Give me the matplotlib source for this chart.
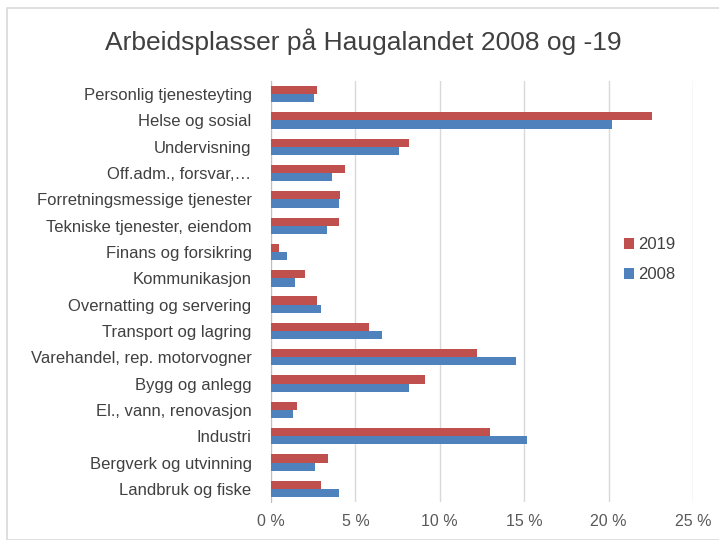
import numpy as np
import matplotlib.pyplot as plt
from matplotlib.patches import Rectangle

# data, top to bottom as in the chart
categories = ['Personlig tjenesteyting', 'Helse og sosial', 'Undervisning',
              'Off.adm., forsvar,…', 'Forretningsmessige tjenester',
              'Tekniske tjenester, eiendom', 'Finans og forsikring', 'Kommunikasjon',
              'Overnatting og servering', 'Transport og lagring',
              'Varehandel, rep. motorvogner', 'Bygg og anlegg', 'El., vann, renovasjon',
              'Industri', 'Bergverk og utvinning', 'Landbruk og fiske']
share2019 = [2.7, 22.6, 8.15, 4.4, 4.1, 4.0, 0.5, 2.0,
             2.7, 5.8, 12.2, 9.1, 1.55, 12.95, 3.35, 2.95]
share2008 = [2.55, 20.2, 7.6, 3.6, 4.0, 3.3, 0.95, 1.45,
             2.95, 6.55, 14.5, 8.15, 1.3, 15.15, 2.6, 4.0]
xticks = [0, 5, 10, 15, 20, 25]

red = '#C0504D'
blue = '#4F81BD'
txt = '#404040'
plt.rcParams['font.family'] = ['Liberation Sans', 'DejaVu Sans']

fig = plt.figure(figsize=(7.19, 5.4), dpi=100)
fig.patches.append(Rectangle((7 / 719, 0), 1, 1 - 8 / 540, transform=fig.transFigure,
                             fill=False, edgecolor='#d9d9d9', linewidth=1.2))
ax = fig.add_axes([271 / 719, 38 / 540, 422 / 719, 421 / 540])

y = np.arange(len(categories))
h = 0.31
ax.barh(y - h / 2, share2019, height=h, color=red, label='2019', zorder=3)
ax.barh(y + h / 2, share2008, height=h, color=blue, label='2008', zorder=3)

ax.set_ylim(len(categories) - 0.5, -0.5)
ax.set_xlim(0, 25)
ax.set_yticks(y)
ax.set_yticklabels(categories, fontsize=12, color=txt)
ax.set_xticks(xticks)
ax.set_xticklabels([f'{t} %' for t in xticks], fontsize=11.5, color='#595959')
ax.tick_params(axis='both', length=0, pad=9)
ax.tick_params(axis='y', pad=14)
ax.grid(axis='x', color='#d9d9d9', linewidth=1, zorder=0)
for s in ['top', 'right', 'bottom']:
    ax.spines[s].set_visible(False)
ax.spines['left'].set_color('#bfbfbf')

fig.text(0.5 + 7 / 1438, 1 - 42 / 540, 'Arbeidsplasser på Haugalandet 2008 og -19',
         ha='center', va='center', fontsize=19, color=txt)

ax.legend(loc='center left', bbox_to_anchor=(0.80, 0.575), frameon=False,
          fontsize=12, labelcolor=txt, handlelength=0.6, handleheight=0.6,
          handletextpad=0.3, labelspacing=0.9)

plt.savefig('out.png', dpi=100, facecolor='white')
